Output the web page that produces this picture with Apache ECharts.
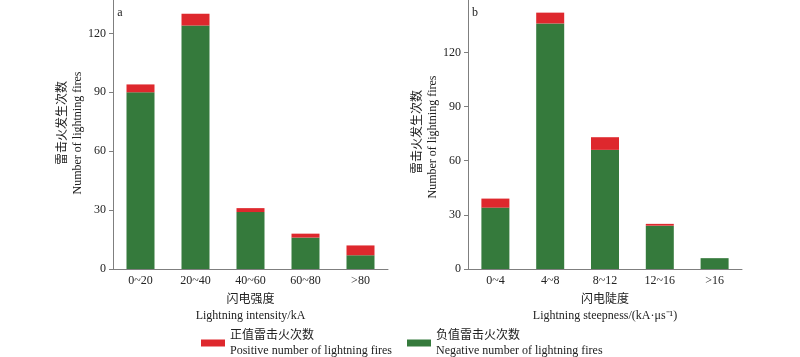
<!DOCTYPE html>
<html>
<head>
<meta charset="utf-8">
<script src="https://cdn.jsdelivr.net/npm/echarts@6/dist/echarts.min.js"></script>
<style>
html,body{margin:0;padding:0;background:#fff;}
#c{width:800px;height:357px;}
</style>
</head>
<body>
<div id="c"></div>
<script>
var catsA = ['0~20', '20~40', '40~60', '60~80', '>80'];
var negA = [90, 124, 29, 16, 7];
var posA = [4, 6, 2, 2, 5];
var catsB = ['0~4', '4~8', '8~12', '12~16', '>16'];
var negB = [34, 136, 66, 24, 6];
var posB = [5, 6, 7, 1, 0];
var yTicksA = [0, 30, 60, 90, 120];
var yTicksB = [0, 30, 60, 90, 120];
var legendPos = '正值雷击火次数\nPositive number of lightning fires';
var legendNeg = '负值雷击火次数\nNegative number of lightning fires';
var yNameCn = '雷击火发生次数';
var yNameEn = 'Number of lightning fires';
var xNameA = '闪电强度\nLightning intensity/kA';
var xNameB = '闪电陡度\nLightning steepness/(kA·μs⁻¹)';

var FONT = "'Liberation Serif', 'Noto Sans CJK SC', serif";
var RED = '#de282d';
var GREEN = '#357a3c';

function xAxis(idx, cats, name) {
  return {
    type: 'category', gridIndex: idx, data: cats,
    axisLine: {lineStyle: {color: '#7f7f7f', width: 1}},
    axisTick: {show: false},
    axisLabel: {color: '#222', fontFamily: FONT, fontSize: 12, margin: 6},
    name: name, nameLocation: 'middle', nameGap: 19,
    nameTextStyle: {color: '#222', fontFamily: FONT, fontSize: 12, lineHeight: 16}
  };
}
function yAxis(idx, max, ticks) {
  return {
    type: 'value', gridIndex: idx, min: 0, max: max, interval: ticks[1] - ticks[0],
    splitLine: {show: false},
    axisLine: {show: true, lineStyle: {color: '#7f7f7f', width: 1}},
    axisTick: {show: true, inside: false, length: 4, lineStyle: {color: '#7f7f7f'}},
    axisLabel: {color: '#222', fontFamily: FONT, fontSize: 12, margin: 7, showMaxLabel: false,
      formatter: function (v) { return ticks.indexOf(v) >= 0 ? String(v) : ''; }}
  };
}
function bar(name, data, xi, color) {
  return {
    name: name, type: 'bar', stack: 's' + xi, xAxisIndex: xi, yAxisIndex: xi,
    data: data, barWidth: 28,
    itemStyle: {color: color},
    emphasis: {disabled: true}
  };
}
function vText(x, y, text) {
  return {type: 'text', x: x, y: y, rotation: Math.PI / 2,
    style: {text: text, fill: '#222', font: '12px ' + FONT, textAlign: 'center', textVerticalAlign: 'middle'}};
}

var chart = echarts.init(document.getElementById('c'), null, {renderer: 'canvas'});
chart.setOption({
  animation: false,
  grid: [
    {left: 113, right: 412, top: 0, bottom: 88},
    {left: 468, right: 58, top: 0, bottom: 88}
  ],
  xAxis: [xAxis(0, catsA, xNameA), xAxis(1, catsB, xNameB)],
  yAxis: [yAxis(0, 137, yTicksA), yAxis(1, 149, yTicksB)],
  legend: {
    left: 201, top: 328, padding: 0, itemWidth: 24, itemHeight: 7, itemGap: 15,
    icon: 'rect', selectedMode: false,
    data: [legendPos, legendNeg],
    textStyle: {color: '#222', fontFamily: FONT, fontSize: 12, lineHeight: 15}
  },
  graphic: [
    vText(63, 123, yNameCn), vText(78, 133, yNameEn),
    vText(418, 132, yNameCn), vText(433, 137, yNameEn),
    {type: 'text', x: 120, y: 13, style: {text: 'a', fill: '#222', font: '12px ' + FONT, textAlign: 'center', textVerticalAlign: 'middle'}},
    {type: 'text', x: 475, y: 13, style: {text: 'b', fill: '#222', font: '12px ' + FONT, textAlign: 'center', textVerticalAlign: 'middle'}}
  ],
  series: [
    bar(legendNeg, negA, 0, GREEN),
    bar(legendPos, posA, 0, RED),
    bar(legendNeg, negB, 1, GREEN),
    bar(legendPos, posB, 1, RED)
  ]
});
</script>
</body>
</html>
